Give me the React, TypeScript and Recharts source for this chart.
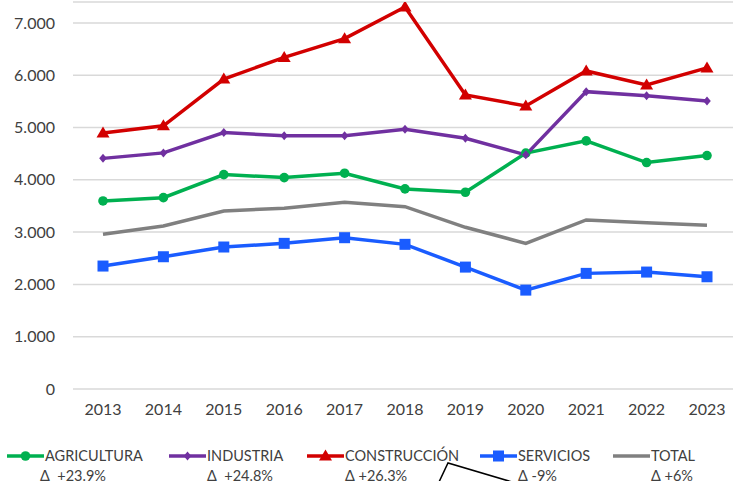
import { LineChart, Line, XAxis, YAxis, CartesianGrid, Legend } from "recharts";

const years = ["2013", "2014", "2015", "2016", "2017", "2018", "2019", "2020", "2021", "2022", "2023"];
const agricultura = [3596, 3659, 4100, 4042, 4126, 3826, 3762, 4510, 4745, 4330, 4464];
const industria = [4410, 4515, 4904, 4841, 4841, 4966, 4794, 4477, 5686, 5609, 5508];
const construccion = [4893, 5033, 5927, 6341, 6699, 7305, 5623, 5412, 6081, 5814, 6140];
const servicios = [2351, 2529, 2715, 2785, 2893, 2766, 2331, 1891, 2211, 2236, 2146];
const total = [2958, 3117, 3404, 3456, 3571, 3487, 3092, 2785, 3232, 3180, 3130];
const yTicks = [0, 1000, 2000, 3000, 4000, 5000, 6000, 7000];

const seriesNames = ["AGRICULTURA", "INDUSTRIA", "CONSTRUCCIÓN", "SERVICIOS", "TOTAL"];
const seriesDeltas = ["Δ  +23.9%", "Δ  +24.8%", "Δ +26.3%", "Δ -9%", "Δ +6%"];

const data = years.map((year, i) => ({
    year,
    agricultura: agricultura[i],
    industria: industria[i],
    construccion: construccion[i],
    servicios: servicios[i],
    total: total[i],
}));

type Shape = "circle" | "diamond" | "triangle" | "square" | "none";

const series: { key: string; color: string; shape: Shape }[] = [
    { key: "agricultura", color: "#00B050", shape: "circle" },
    { key: "industria", color: "#7030A0", shape: "diamond" },
    { key: "construccion", color: "#D20000", shape: "triangle" },
    { key: "servicios", color: "#1A5CFF", shape: "square" },
    { key: "total", color: "#808080", shape: "none" },
];

// legend entry widths, so the items sit where the original ones do
const legendWidths = [162, 138, 173, 133, 110];

const font = "Lato, 'Open Sans', sans-serif";

function Marker({ cx, cy, shape, color }: { cx: number; cy: number; shape: Shape; color: string }) {
    if (shape === "circle") return <circle cx={cx} cy={cy} r={4.8} fill={color} />;
    if (shape === "square") return <rect x={cx - 5.5} y={cy - 5.5} width={11} height={11} fill={color} />;
    if (shape === "diamond")
        return <polygon points={`${cx},${cy - 4.5} ${cx + 3.8},${cy} ${cx},${cy + 4.5} ${cx - 3.8},${cy}`} fill={color} />;
    if (shape === "triangle")
        return <polygon points={`${cx},${cy - 6.5} ${cx + 6.5},${cy + 4.5} ${cx - 6.5},${cy + 4.5}`} fill={color} />;
    return null;
}

const fmt = (v: number) => String(v).replace(/\B(?=(\d{3})+(?!\d))/g, ".");

function LegendBox() {
    return (
        <div style={{ display: "flex", paddingLeft: 7, paddingTop: 2, boxSizing: "border-box", fontFamily: font, fontSize: 14.5, color: "#404040", height: 37 }}>
            {series.map((s, i) => (
                <div key={s.key} style={{ display: "flex", alignItems: "flex-start", width: legendWidths[i], flex: "none" }}>
                    <svg width={38} height={20} style={{ display: "block", flex: "none" }}>
                        <line x1={0} y1={10} x2={37} y2={10} stroke={s.color} strokeWidth={3.5} />
                        <Marker cx={18.5} cy={10} shape={s.shape} color={s.color} />
                    </svg>
                    <div style={{ lineHeight: "20px", whiteSpace: "pre" }}>
                        <div>{seriesNames[i]}</div>
                        <div style={{ marginLeft: i === 0 ? -5 : 0 }}>{seriesDeltas[i]}</div>
                    </div>
                </div>
            ))}
        </div>
    );
}

export default function App() {
    return (
        <div style={{ position: "fixed", top: 0, left: 0, width: 733, height: 481, overflow: "hidden", background: "#fff" }}>
            <LineChart width={741} height={481} data={data} margin={{ top: 2, right: 4, left: 0, bottom: 0 }}>
                <CartesianGrid vertical={false} stroke="#D9D9D9" strokeWidth={1.5} />
                <XAxis
                    dataKey="year"
                    axisLine={false}
                    tickLine={false}
                    tickSize={0}
                    tickMargin={15}
                    height={55}
                    interval={0}
                    padding={{ left: 30, right: 30 }}
                    tick={{ fill: "#404040", fontSize: 16, fontFamily: font }}
                />
                <YAxis
                    domain={[0, 7400]}
                    allowDataOverflow
                    ticks={yTicks}
                    width={73}
                    axisLine={false}
                    tickLine={false}
                    tickSize={0}
                    tickMargin={18}
                    tickFormatter={fmt}
                    tick={{ fill: "#404040", fontSize: 16, fontFamily: font }}
                />
                <Legend verticalAlign="bottom" wrapperStyle={{ left: 0, bottom: 0, width: 733, height: 37 }} content={() => <LegendBox />} />
                {series.map((s) => (
                    <Line
                        key={s.key}
                        type="linear"
                        dataKey={s.key}
                        stroke={s.color}
                        strokeWidth={3.5}
                        isAnimationActive={false}
                        dot={(p: any) => <Marker key={`${s.key}-${p.index}`} cx={p.cx} cy={p.cy} shape={s.shape} color={s.color} />}
                        activeDot={false}
                    />
                ))}
            </LineChart>
            <svg width={733} height={481} style={{ position: "absolute", top: 0, left: 0, pointerEvents: "none" }}>
                <polyline points="439,482 448,463 512,482" fill="none" stroke="#000" strokeWidth={1.5} />
            </svg>
        </div>
    );
}
